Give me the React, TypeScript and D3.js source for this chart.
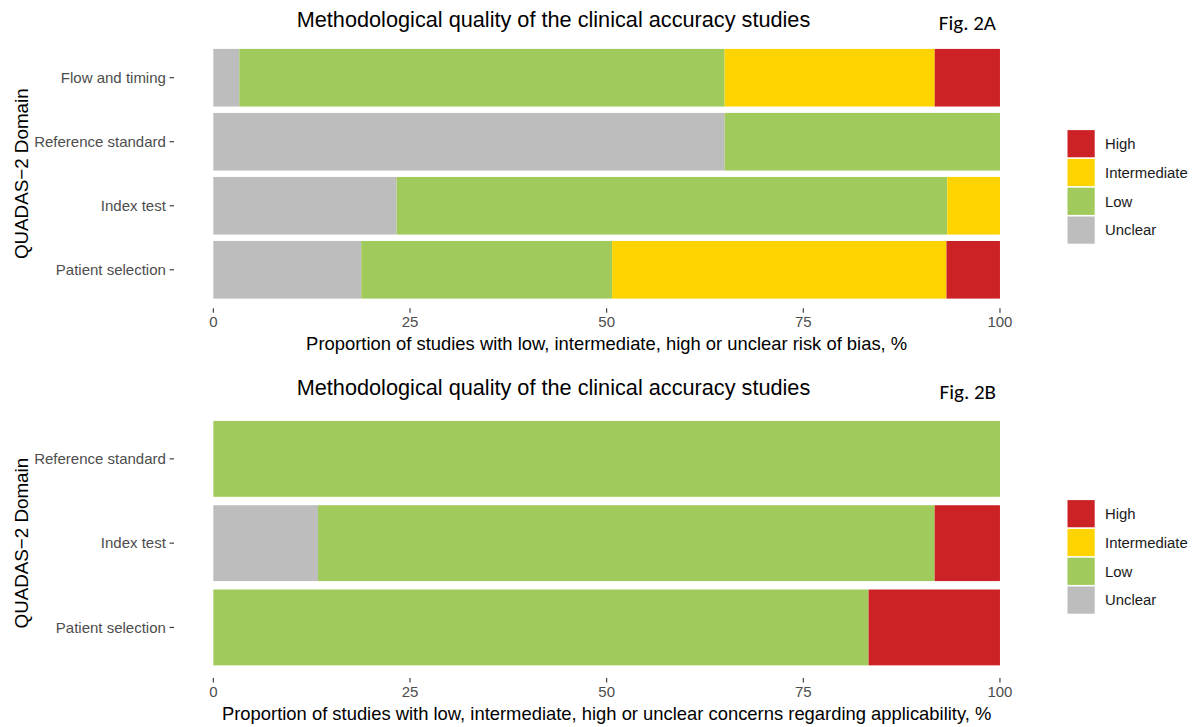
import React from "react";
import * as d3 from "d3";

// Risk levels, stacked left to right in this order
const levels = ["Unclear", "Low", "Intermediate", "High"];
const legendOrder = ["High", "Intermediate", "Low", "Unclear"];
const levelColors: Record<string, string> = {
  High: "#CC2226",
  Intermediate: "#FFD300",
  Low: "#A0CB5C",
  Unclear: "#BDBDBD",
};

// Fig. 2A – risk of bias (%)
const biasDomains = ["Patient selection", "Index test", "Reference standard", "Flow and timing"];
const biasUnclear = [18.8, 23.3, 65.0, 3.3];
const biasLow = [31.9, 70.0, 35.0, 61.7];
const biasIntermediate = [42.5, 6.7, 0, 26.7];
const biasHigh = [6.8, 0, 0, 8.3];

// Fig. 2B – concerns regarding applicability (%)
const applicDomains = ["Patient selection", "Index test", "Reference standard"];
const applicUnclear = [0, 13.3, 0];
const applicLow = [83.3, 78.4, 100];
const applicIntermediate = [0, 0, 0];
const applicHigh = [16.7, 8.3, 0];

const xTicks = [0, 25, 50, 75, 100];

const titleText = "Methodological quality of the clinical accuracy studies";
const yTitle = "QUADAS\u22122 Domain";

const FONT = "'Liberation Sans', Arial, Helvetica, sans-serif";
const TICK_SIZE = 15;
const AXIS_TITLE_SIZE = 18.4;

type Row = { domain: string; [k: string]: number | string };

function buildRows(
  domains: string[],
  u: number[],
  l: number[],
  i: number[],
  h: number[]
): Row[] {
  return domains.map((d, k) => ({
    domain: d,
    Unclear: u[k],
    Low: l[k],
    Intermediate: i[k],
    High: h[k],
  }));
}

interface PanelProps {
  top: number; // y of panel top
  bottom: number; // y of panel bottom
  rows: Row[];
  xTitle: string;
  fig: string;
  titleY: number;
  figY: number;
  legendTop: number;
}

const X0 = 174; // panel left (includes 5% expansion)
const X1 = 1039.3; // panel right

function Panel({ top, bottom, rows, xTitle, fig, titleY, figY, legendTop }: PanelProps) {
  // continuous x with ggplot-style 5% expansion
  const x = d3.scaleLinear().domain([-5, 105]).range([X0, X1]);
  const y = d3
    .scaleBand<string>()
    .domain(rows.map((r) => r.domain).reverse())
    .range([top, bottom])
    .paddingInner(0.1)
    .paddingOuter(0.15);

  const stack = d3
    .stack<Row>()
    .keys(levels)
    .value((d, key) => d[key] as number);
  const series = stack(rows);

  const tickLen = 4.5;
  const midY = (top + bottom) / 2;
  const midX = (X0 + X1) / 2;

  return (
    <g>
      <text
        x={553.5}
        y={titleY}
        textAnchor="middle"
        fontFamily={FONT}
        fontSize={21.7}
        fill="#000"
      >
        {titleText}
      </text>
      <text
        x={996}
        y={figY}
        textAnchor="end"
        fontFamily="Carlito, Lato, 'Open Sans', sans-serif"
        fontSize={21}
        fill="#000"
      >
        {fig}
      </text>

      {series.map((s) => (
        <g key={s.key} fill={levelColors[s.key]}>
          {s.map((d, k) =>
            d[1] - d[0] > 0 ? (
              <rect
                key={k}
                x={x(d[0])}
                y={y(d.data.domain as string)}
                width={x(d[1]) - x(d[0])}
                height={y.bandwidth()}
              />
            ) : null
          )}
        </g>
      ))}

      {/* y axis ticks and labels */}
      {rows.map((r) => {
        const cy = (y(r.domain as string) as number) + y.bandwidth() / 2;
        return (
          <g key={r.domain as string}>
            <line x1={X0 - tickLen} x2={X0} y1={cy} y2={cy} stroke="#333" strokeWidth={1.1} />
            <text
              x={X0 - tickLen - 3.6}
              y={cy}
              dy="0.35em"
              textAnchor="end"
              fontFamily={FONT}
              fontSize={TICK_SIZE}
              fill="#4D4D4D"
            >
              {r.domain as string}
            </text>
          </g>
        );
      })}

      {/* x axis ticks and labels */}
      {xTicks.map((t) => (
        <g key={t}>
          <line x1={x(t)} x2={x(t)} y1={bottom} y2={bottom + tickLen} stroke="#333" strokeWidth={1.1} />
          <text
            x={x(t)}
            y={bottom + tickLen + 3.6 + 11}
            textAnchor="middle"
            fontFamily={FONT}
            fontSize={TICK_SIZE}
            fill="#4D4D4D"
          >
            {t}
          </text>
        </g>
      ))}

      <text
        x={midX}
        y={bottom + 41.5}
        textAnchor="middle"
        fontFamily={FONT}
        fontSize={AXIS_TITLE_SIZE}
        fill="#000"
      >
        {xTitle}
      </text>

      <text
        transform={`translate(${27.5},${midY}) rotate(-90)`}
        textAnchor="middle"
        fontFamily={FONT}
        fontSize={18.8}
        fill="#000"
      >
        {yTitle}
      </text>

      {/* legend */}
      {legendOrder.map((lv, k) => {
        const ky = legendTop + k * 28.8;
        return (
          <g key={lv}>
            <rect x={1067.5} y={ky + 0.8} width={27.2} height={27.2} fill={levelColors[lv]} />
            <text
              x={1105}
              y={ky + 14.4}
              dy="0.35em"
              fontFamily={FONT}
              fontSize={14.9}
              fill="#1A1A1A"
            >
              {lv}
            </text>
          </g>
        );
      })}
    </g>
  );
}

export default function App() {
  const biasRows = buildRows(biasDomains, biasUnclear, biasLow, biasIntermediate, biasHigh);
  const applicRows = buildRows(applicDomains, applicUnclear, applicLow, applicIntermediate, applicHigh);

  return (
    <svg
      width={1202}
      height={727}
      style={{ position: "absolute", left: 0, top: 0, background: "#fff" }}
    >
      <rect width={1202} height={727} fill="#fff" />
      <Panel
        top={39.3}
        bottom={308.2}
        rows={biasRows}
        xTitle="Proportion of studies with low, intermediate, high or unclear risk of bias, %"
        fig="Fig. 2A"
        titleY={26.5}
        figY={30}
        legendTop={129.3}
      />
      <Panel
        top={408.3}
        bottom={678}
        rows={applicRows}
        xTitle="Proportion of studies with low, intermediate, high or unclear concerns regarding applicability, %"
        fig="Fig. 2B"
        titleY={395}
        figY={398.5}
        legendTop={499.3}
      />
    </svg>
  );
}
